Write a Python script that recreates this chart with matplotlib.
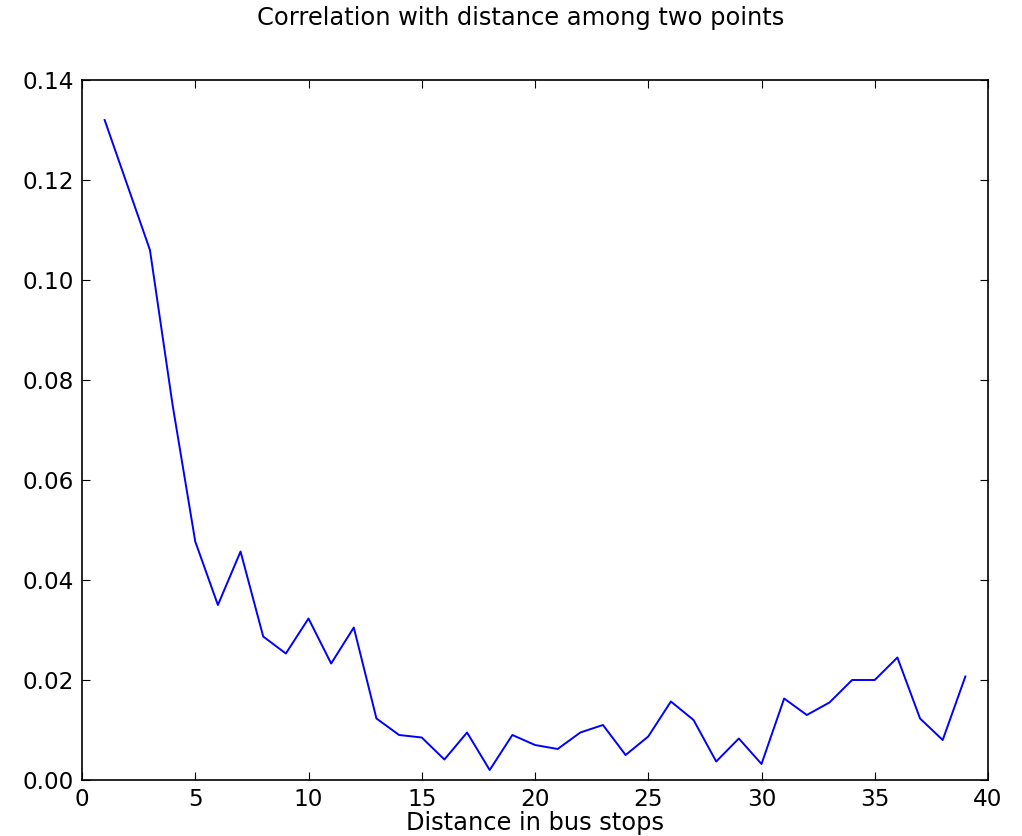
import numpy as np
import matplotlib
matplotlib.use("Agg")
import matplotlib.pyplot as plt

# distance in bus stops
distance = list(range(1, 40))

# correlation
correlation = [0.132, 0.119, 0.106, 0.075, 0.0477, 0.0350, 0.0457, 0.0287, 0.0253, 0.0323,
               0.0233, 0.0305, 0.0123, 0.0090, 0.0085, 0.0041, 0.0095, 0.0020, 0.0090, 0.0070,
               0.0062, 0.0095, 0.0110, 0.0050, 0.0087, 0.0157, 0.0120, 0.0037, 0.0083, 0.0032,
               0.0163, 0.0130, 0.0155, 0.0200, 0.0200, 0.0245, 0.0123, 0.0080, 0.0207]

x_ticks = [0, 5, 10, 15, 20, 25, 30, 35, 40]
y_ticks = [0.00, 0.02, 0.04, 0.06, 0.08, 0.10, 0.12, 0.14]

fig = plt.figure(figsize=(10.22, 8.36), dpi=100)
ax = fig.add_axes([82 / 1022, 56 / 836, 906 / 1022, 700 / 836])

ax.plot(distance, correlation, color="b", lw=1.4)

ax.set_xlim(0, 40)
ax.set_ylim(0, 0.14)
ax.set_xticks(x_ticks)
ax.set_yticks(y_ticks)
ax.set_yticklabels(["%.2f" % v for v in y_ticks])

ax.tick_params(direction="in", top=True, right=True, length=6, width=0.8,
               labelsize=16.7, pad=6)
for s in ax.spines.values():
    s.set_linewidth(1.2)

ax.set_xlabel("Distance in bus stops", fontsize=17.4, labelpad=0)
fig.suptitle("Correlation with distance among two points", fontsize=17.4,
             x=0.509, y=0.993)

fig.savefig("out.png", dpi=100)
